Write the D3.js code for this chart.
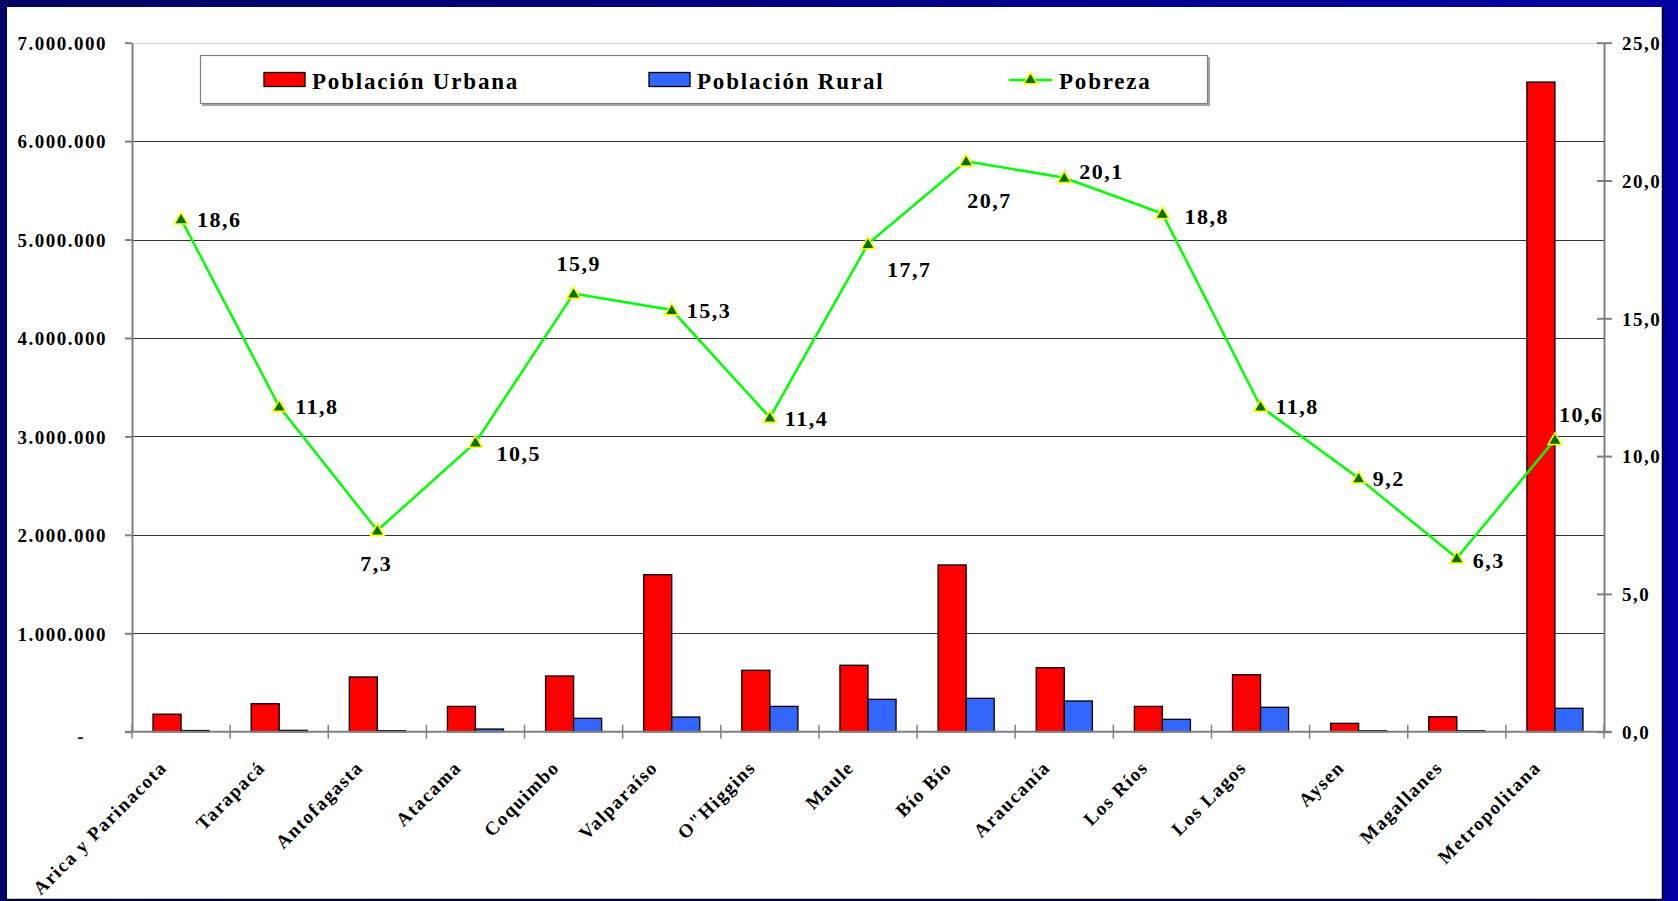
<!doctype html>
<html lang="es">
<head>
<meta charset="UTF-8">
<title>Población y pobreza por región</title>
<style>
  body { margin: 0; background: #000066; }
  svg text { font-family: "Liberation Serif", "DejaVu Serif", serif; font-weight: bold; fill: #000; }
  .tick-label { font-size: 19px; letter-spacing: 1.5px; }
  .cat-label { font-size: 19px; letter-spacing: 1.5px; }
  .data-label { font-size: 22px; letter-spacing: 1.5px; }
  .legend-label { font-size: 23px; letter-spacing: 1.8px; }
  .grid line { stroke: #333; stroke-width: 1px; shape-rendering: crispEdges; }
  .axis path, .axis line { stroke: #808080; stroke-width: 2px; fill: none; }
  .bar { stroke: #000; stroke-width: 1.3px; }
</style>
</head>
<body>
<svg id="chart" width="1678" height="901"></svg>

<script src="https://cdn.jsdelivr.net/npm/d3@7/dist/d3.min.js"></script>
<script>
  // regiones y valores
  const regions = ['Arica y Parinacota', 'Tarapacá', 'Antofagasta', 'Atacama', 'Coquimbo',
    'Valparaíso', 'O"Higgins', 'Maule', 'Bío Bío', 'Araucanía', 'Los Ríos', 'Los Lagos',
    'Aysen', 'Magallanes', 'Metropolitana']
  const urbana = [178000, 284000, 556000, 257000, 566000, 1595000, 624000, 675000,
    1694000, 650000, 257000, 579000, 85000, 152000, 6600000]
  const rural = [12000, 14000, 10000, 27000, 136000, 149000, 257000, 329000,
    339000, 312000, 126000, 248000, 9000, 9000, 238000]
  const pobreza = [18.6, 11.8, 7.3, 10.5, 15.9, 15.3, 11.4, 17.7, 20.7, 20.1, 18.8, 11.8, 9.2, 6.3, 10.6]

  const leftTicks = [0, 1000000, 2000000, 3000000, 4000000, 5000000, 6000000, 7000000]
  const rightTicks = [0, 5, 10, 15, 20, 25]

  // posición de cada etiqueta de pobreza respecto a su punto [dx, dy]
  const labelOffsets = [[16, 8], [16, 8], [-17, 40], [21, 19], [-17, -22], [15, 8], [15, 8], [19, 33],
    [1, 47], [15, 1], [22, 10], [15, 8], [14, 8], [16, 10], [4, -18]]

  const W = 1678, H = 901
  const plot = { left: 132, right: 1604, top: 42.7, bottom: 731.7 }

  const svg = d3.select('#chart')

  // marco con degradado
  const grad = svg.append('defs').append('linearGradient').attr('id', 'frame')
  grad.append('stop').attr('offset', '0%').attr('stop-color', '#000066')
  grad.append('stop').attr('offset', '100%').attr('stop-color', '#0000a2')
  svg.append('rect').attr('width', W).attr('height', H).attr('fill', 'url(#frame)')
  svg.append('rect').attr('x', 7).attr('y', 7).attr('width', 1655).attr('height', 892).attr('fill', '#fff')
  svg.append('path').attr('d', 'M1662.5,7V899.5H7').attr('fill', 'none').attr('stroke', '#000').attr('stroke-width', 1.5)

  const es = d3.formatLocale({ decimal: ',', thousands: '.', grouping: [3], currency: ['$', ''] })
  const fmtPop = es.format(',.0f')
  const fmtPct = es.format('.1f')

  const x = d3.scaleBand().domain(regions).range([plot.left, plot.right]).padding(0)
  const xs = d3.scaleBand().domain(['urbana', 'rural']).range([0, x.bandwidth()])
    .paddingInner(0).paddingOuter(0.75)
  const yL = d3.scaleLinear().domain([0, 7000000]).range([plot.bottom, plot.top])
  const yR = d3.scaleLinear().domain([0, 25]).range([plot.bottom, plot.top])

  // líneas de división
  svg.append('g').attr('class', 'grid')
    .selectAll('line')
    .data(leftTicks.slice(1))
    .enter()
    .append('line')
    .attr('x1', plot.left).attr('x2', plot.right)
    .attr('y1', d => Math.round(yL(d)) + 0.5).attr('y2', d => Math.round(yL(d)) + 0.5)
    .style('stroke', d => d === 7000000 ? '#d0d0d0' : '#333')

  // barras
  const series = [
    { key: 'urbana', values: urbana, color: '#ff0000' },
    { key: 'rural', values: rural, color: '#3366ff' }
  ]
  series.forEach(s => {
    svg.append('g')
      .selectAll('rect')
      .data(s.values)
      .enter()
      .append('rect')
      .attr('class', 'bar')
      .attr('x', (d, i) => x(regions[i]) + xs(s.key))
      .attr('y', d => yL(d))
      .attr('width', xs.bandwidth())
      .attr('height', d => yL(0) - yL(d))
      .attr('fill', s.color)
  })

  // eje izquierdo
  const axL = svg.append('g').attr('class', 'axis')
    .attr('transform', `translate(${plot.left},0)`)
    .call(d3.axisLeft(yL).tickValues(leftTicks).tickSize(7).tickSizeOuter(0).tickPadding(18)
      .tickFormat(d => d === 0 ? '-' : fmtPop(d)))
  axL.selectAll('text').attr('class', 'tick-label').attr('dy', '0.36em')
  axL.selectAll('text').filter(d => d === 0).attr('x', -47).attr('dy', '0.55em')

  // eje derecho
  const axR = svg.append('g').attr('class', 'axis')
    .attr('transform', `translate(${plot.right},0)`)
    .call(d3.axisRight(yR).tickValues(rightTicks).tickSize(8).tickSizeOuter(0).tickPadding(10)
      .tickFormat(fmtPct))
  axR.selectAll('line').attr('x1', -7)
  axR.selectAll('text').attr('class', 'tick-label').attr('dy', '0.36em')

  // eje de categorías
  const axB = svg.append('g').attr('class', 'axis')
  axB.append('line')
    .attr('x1', plot.left - 7).attr('x2', plot.right + 7)
    .attr('y1', plot.bottom).attr('y2', plot.bottom)
  axB.selectAll('line.tk')
    .data(regions.map(r => x(r)).concat([plot.right]))
    .enter()
    .append('line')
    .attr('class', 'tk')
    .attr('x1', d => d).attr('x2', d => d)
    .attr('y1', plot.bottom - 7).attr('y2', plot.bottom + 7)
    .style('stroke-width', 1.5)
  svg.append('g')
    .selectAll('text')
    .data(regions)
    .enter()
    .append('text')
    .attr('class', 'cat-label')
    .attr('text-anchor', 'end')
    .attr('transform', d => `translate(${x(d) + x.bandwidth() / 2 - 13},${plot.bottom + 37}) rotate(-45)`)
    .text(d => d)

  // línea de pobreza
  const cx = i => x(regions[i]) + x.bandwidth() / 2
  const line = d3.line().x((d, i) => cx(i)).y(d => yR(d))
  svg.append('path')
    .datum(pobreza)
    .attr('d', line)
    .attr('fill', 'none')
    .attr('stroke', '#00ff00')
    .attr('stroke-width', 2.5)

  const tri = d3.symbol().type(d3.symbolTriangle).size(78)
  svg.append('g')
    .selectAll('path')
    .data(pobreza)
    .enter()
    .append('path')
    .attr('d', tri)
    .attr('transform', (d, i) => `translate(${cx(i)},${yR(d) + 1})`)
    .attr('fill', '#007000')
    .attr('stroke', '#ffff00')
    .attr('stroke-width', 1.6)

  svg.append('g')
    .selectAll('text')
    .data(pobreza)
    .enter()
    .append('text')
    .attr('class', 'data-label')
    .attr('x', (d, i) => cx(i) + labelOffsets[i][0])
    .attr('y', (d, i) => yR(d) + labelOffsets[i][1])
    .text(d => fmtPct(d))

  // leyenda
  const lg = svg.append('g')
  lg.append('rect').attr('x', 202).attr('y', 57).attr('width', 1008).attr('height', 49).attr('fill', '#000').attr('opacity', 0.35)
  lg.append('rect').attr('x', 200.5).attr('y', 55.5).attr('width', 1007).attr('height', 48)
    .attr('fill', '#fff').attr('stroke', '#808080').attr('stroke-width', 1.2)

  const legendItems = [
    { label: 'Población Urbana', color: '#ff0000', x: 264 },
    { label: 'Población Rural', color: '#3366ff', x: 649 }
  ]
  legendItems.forEach(it => {
    lg.append('rect').attr('x', it.x).attr('y', 72.5).attr('width', 41).attr('height', 14)
      .attr('fill', it.color).attr('stroke', '#000').attr('stroke-width', 1.3)
    lg.append('text').attr('class', 'legend-label').attr('x', it.x + 48).attr('y', 88.5).text(it.label)
  })
  lg.append('line').attr('x1', 1009).attr('x2', 1052).attr('y1', 80).attr('y2', 80)
    .attr('stroke', '#00ff00').attr('stroke-width', 2.5)
  lg.append('path').attr('d', tri).attr('transform', 'translate(1030.5,80)')
    .attr('fill', '#007000').attr('stroke', '#ffff00').attr('stroke-width', 1.6)
  lg.append('text').attr('class', 'legend-label').attr('x', 1059).attr('y', 88.5).text('Pobreza')
</script>
</body>
</html>
